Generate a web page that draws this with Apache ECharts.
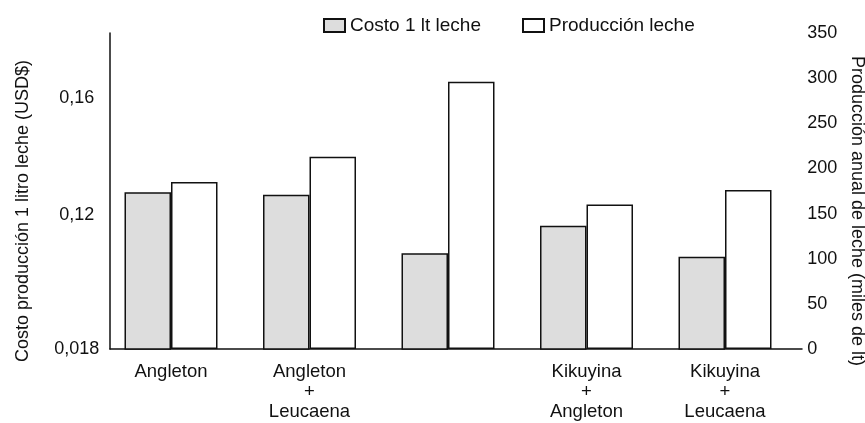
<!DOCTYPE html>
<html>
<head>
<meta charset="utf-8">
<script src="https://cdn.jsdelivr.net/npm/echarts@6/dist/echarts.min.js"></script>
<style>html,body{margin:0;padding:0;background:#fff}#c{width:865px;height:423px}</style>
</head>
<body>
<div id="c"></div>
<script>
// ---- data ----
const categories = ['Angleton', 'Angleton\n+\nLeucaena', '', 'Kikuyina\n+\nAngleton', 'Kikuyina\n+\nLeucaena'];
const costo = [0.1277, 0.1269, 0.1068, 0.1162, 0.1056];          // USD$ per litre
const produccion = [185, 213, 296, 160, 176];                      // miles de lt
const leftTickValues = [0.074, 0.12, 0.16];
const leftTickLabels = ['0,018', '0,12', '0,16'];
const seriesNames = ['Costo 1 lt leche', 'Producción leche'];

const FONT = 'Liberation Sans';
const chart = echarts.init(document.getElementById('c'), null, {renderer: 'canvas'});
const txt = {color: '#111', fontFamily: FONT, fontSize: 18};

chart.setOption({
  animation: false,
  backgroundColor: '#fff',
  textStyle: {fontFamily: FONT, color: '#111'},
  legend: [
    {data: [{name: seriesNames[0], icon: 'rect'}], left: 318, top: 11, itemWidth: 21, itemHeight: 13, itemGap: 0,
     textStyle: Object.assign({}, txt, {fontSize: 19})},
    {data: [{name: seriesNames[1], icon: 'rect'}], left: 517, top: 11, itemWidth: 21, itemHeight: 13, itemGap: 0,
     textStyle: Object.assign({}, txt, {fontSize: 19})}
  ],
  grid: [
    {left: 101.75, right: 70.75, top: 33, bottom: 74, containLabel: false, outerBoundsMode: 'none'},
    {left: 110, right: 63, top: 33, bottom: 74, containLabel: false, outerBoundsMode: 'none'}
  ],
  xAxis: [
    {type: 'category', gridIndex: 0, data: categories,
     axisLine: {show: false}, axisTick: {show: false},
     axisLabel: Object.assign({}, txt, {interval: 0, margin: 13, lineHeight: 20, fontSize: 18.5})},
    {type: 'value', gridIndex: 1, min: 0, max: 1,
     axisLine: {show: true, lineStyle: {color: '#111', width: 1.5}},
     axisTick: {show: false}, axisLabel: {show: false}, splitLine: {show: false}}
  ],
  yAxis: [
    {type: 'value', gridIndex: 0, position: 'left', offset: -8,
     min: 0.074, max: 0.1823,
     axisLine: {show: true, lineStyle: {color: '#111', width: 1.5}},
     axisTick: {show: false}, splitLine: {show: false},
     axisLabel: Object.assign({}, txt, {
       customValues: leftTickValues, align: 'center', margin: 33,
       formatter: v => leftTickLabels[leftTickValues.findIndex(t => Math.abs(t - v) < 1e-6)]
     }),
     name: 'Costo producción 1 litro leche (USD$)', nameLocation: 'middle', nameRotate: 90, nameGap: 78,
     nameTextStyle: Object.assign({}, txt, {padding: [0, 40, 0, 0]})},
    {type: 'value', gridIndex: 0, position: 'right',
     min: 0, max: 350, interval: 50,
     axisLine: {show: false}, axisTick: {show: false}, splitLine: {show: false},
     axisLabel: Object.assign({}, txt, {margin: 13, align: 'left'}),
     name: 'Producción anual de leche (miles de lt)', nameLocation: 'middle', nameRotate: -90, nameGap: 50,
     nameTextStyle: Object.assign({}, txt, {padding: [0, 0, 0, 40]})},
    {type: 'value', gridIndex: 1, show: false, min: 0, max: 1}
  ],
  series: [
    {name: seriesNames[0], type: 'bar', xAxisIndex: 0, yAxisIndex: 0, data: costo,
     barWidth: 46.5, barGap: '0%',
     itemStyle: {color: '#dddddd', borderColor: '#111', borderWidth: 1.5}},
    {name: seriesNames[1], type: 'bar', xAxisIndex: 0, yAxisIndex: 1, data: produccion,
     barWidth: 46.5, barGap: '0%',
     itemStyle: {color: '#ffffff', borderColor: '#111', borderWidth: 1.5}}
  ]
});
</script>
</body>
</html>
